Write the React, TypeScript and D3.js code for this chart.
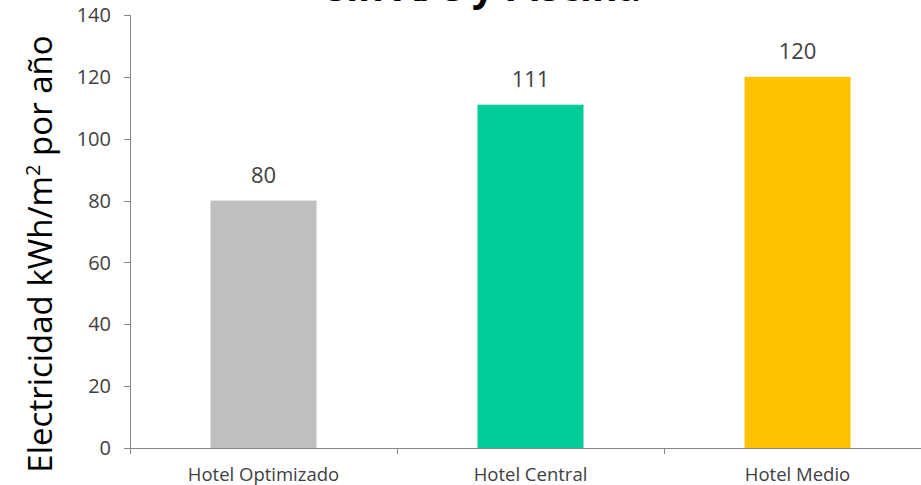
import React from "react";
import * as d3 from "d3";

const categories = ["Hotel Optimizado", "Hotel Central", "Hotel Medio"];
const values = [80, 111, 120];
const barColors = ["#BFBFBF", "#00CC99", "#FFC000"];
const yTicks = [0, 20, 40, 60, 80, 100, 120, 140];
const titleText = "sin A/C y Piscina";

const W = 921;
const H = 485;
const FONT = "'Open Sans', 'Noto Sans', sans-serif";

export default function App() {
  const x0 = 130;
  const step = 267;
  const x = d3
    .scaleBand<string>()
    .domain(categories)
    .range([x0, x0 + step * categories.length])
    .paddingInner(0.603)
    .paddingOuter(0.3015);
  const y = d3.scaleLinear().domain([0, 140]).range([448, 15]);
  const axisColor = "#868686";
  const textColor = "#404040";

  return (
    <div style={{ position: "absolute", left: 0, top: 0 }}>
      <svg width={W} height={H} style={{ display: "block" }}>
        <rect x={0} y={0} width={W} height={H} fill="#ffffff" />
        <text
          x={484}
          y={1}
          textAnchor="middle"
          fontFamily={FONT}
          fontWeight="bold"
          fontSize={39}
          fill="#000"
        >
          {titleText}
        </text>
        {/* y axis */}
        <line x1={x0 + 0.5} x2={x0 + 0.5} y1={y(140)} y2={y(0)} stroke={axisColor} />
        {yTicks.map((t) => (
          <g key={t}>
            <line
              x1={x0 - 6}
              x2={x0}
              y1={Math.round(y(t)) + 0.5}
              y2={Math.round(y(t)) + 0.5}
              stroke={axisColor}
            />
            <text
              x={111}
              y={y(t)}
              dy="0.36em"
              textAnchor="end"
              fontFamily={FONT}
              fontSize={20}
              fill={textColor}
            >
              {t}
            </text>
          </g>
        ))}
        {/* x axis */}
        <line x1={x0} x2={W} y1={Math.round(y(0)) + 0.5} y2={Math.round(y(0)) + 0.5} stroke={axisColor} />
        {categories.map((c, i) => (
          <line
            key={"t" + i}
            x1={x0 + step * i + 0.5}
            x2={x0 + step * i + 0.5}
            y1={y(0)}
            y2={y(0) + 6}
            stroke={axisColor}
          />
        ))}
        {categories.map((c, i) => (
          <g key={c}>
            <rect
              x={x(c)}
              y={y(values[i])}
              width={x.bandwidth()}
              height={y(0) - y(values[i])}
              fill={barColors[i]}
            />
            <text
              x={(x(c) as number) + x.bandwidth() / 2}
              y={y(values[i]) - 18}
              textAnchor="middle"
              fontFamily={FONT}
              fontSize={22}
              fill={textColor}
            >
              {values[i]}
            </text>
            <text
              x={(x(c) as number) + x.bandwidth() / 2}
              y={481}
              textAnchor="middle"
              fontFamily={FONT}
              fontSize={18.5}
              fill={textColor}
            >
              {c}
            </text>
          </g>
        ))}
        <text
          transform={`translate(52, ${254}) rotate(-90)`}
          textAnchor="middle"
          fontFamily={FONT}
          fontSize={33}
          fill="#000"
        >
          Electricidad kWh/m
          <tspan dy={-12} fontSize={20}>2</tspan>
          <tspan dy={12}> por año</tspan>
        </text>
      </svg>
    </div>
  );
}
